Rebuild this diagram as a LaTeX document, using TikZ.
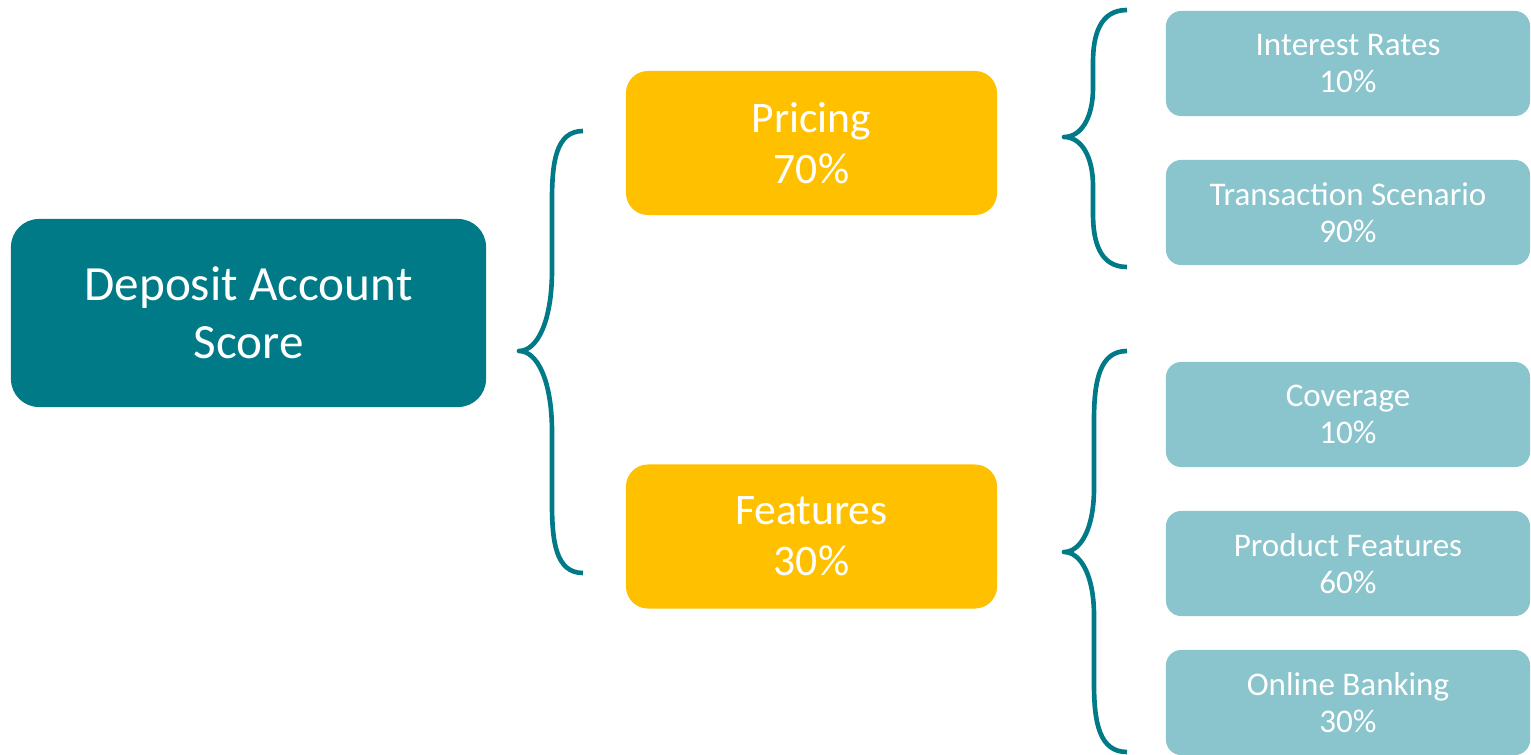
\documentclass[tikz,border=0pt]{standalone}
\usepackage{fontspec}
\setmainfont{Carlito}
\usetikzlibrary{positioning}
\definecolor{scoreteal}{RGB}{0,122,135}
\definecolor{groupgold}{RGB}{255,192,0}
\definecolor{itemblue}{RGB}{138,196,204}
\tikzset{
  scorebox/.style={fill=scoreteal, rounded corners=0.7cm, text=white, align=center,
    minimum width=11.875cm, minimum height=4.7cm, font=\fontsize{35}{41.3}\selectfont},
  groupbox/.style={fill=groupgold, rounded corners=0.55cm, text=white, align=center,
    minimum width=9.275cm, minimum height=3.6cm, font=\fontsize{31}{36}\selectfont},
  itembox/.style={fill=itemblue, rounded corners=0.38cm, text=white, align=center,
    minimum width=9.1cm, minimum height=2.625cm, font=\fontsize{23.5}{26.3}\selectfont},
  bracket/.style={draw=scoreteal, line width=3.3pt, line join=round}
}

\begin{document}
\begin{tikzpicture}[x=0.025cm, y=-0.025cm]
    \useasboundingbox (0,0) rectangle (1531,755);

    \node[scorebox] (score) at (248.5,313) {Deposit Account\\Score};

    \node[groupbox] (pricing) at (811.5,143) {Pricing\\70\%};
    \node[groupbox] (features) at (811.5,536.5) {Features\\30\%};

    \node[itembox] (rates) at (1348,63.5) {Interest Rates\\10\%};
    \node[itembox] (scenario) at (1348,212.5) {Transaction Scenario\\90\%};
    \node[itembox] (coverage) at (1348,414.5) {Coverage\\10\%};
    \node[itembox] (prodfeat) at (1348,563.5) {Product Features\\60\%};
    \node[itembox] (online) at (1348,702.5) {Online Banking\\30\%};

    % braces: tip points back to the parent, ends open towards the children
    \coordinate (scoretip) at (519,351);
    \coordinate (pricingtip) at (1064,137);
    \coordinate (featurestip) at (1064,552);

    \draw[bracket] (583,131) .. controls (556,131) and (552,162) .. (552,200) -- (552,270)
      .. controls (552,322) and (537,351) .. (scoretip)
      .. controls (537,351) and (552,380) .. (552,432) -- (552,504)
      .. controls (552,542) and (556,573) .. (583,573);
    \draw[bracket] (1127,10) .. controls (1100,10) and (1093,35) .. (1093,62) -- (1093,88)
      .. controls (1093,118) and (1081,137) .. (pricingtip)
      .. controls (1081,137) and (1093,156) .. (1093,186) -- (1093,214)
      .. controls (1093,242) and (1100,267) .. (1127,267);
    \draw[bracket] (1127,351) .. controls (1100,351) and (1094,380) .. (1094,420) -- (1094,488)
      .. controls (1094,530) and (1080,552) .. (featurestip)
      .. controls (1080,552) and (1094,574) .. (1094,616) -- (1094,684)
      .. controls (1094,724) and (1100,752) .. (1127,752);
\end{tikzpicture}
\end{document}
